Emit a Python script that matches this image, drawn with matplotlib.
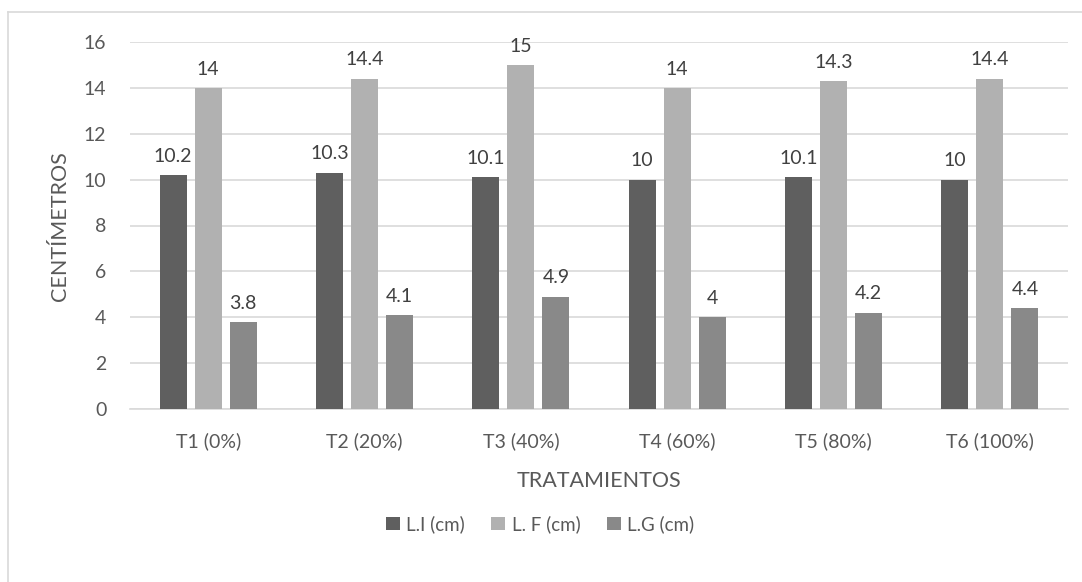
import numpy as np
import matplotlib.pyplot as plt
from matplotlib.lines import Line2D

plt.rcParams['font.family'] = ['Lato', 'DejaVu Sans']

categorias = ['T1 (0%)', 'T2 (20%)', 'T3 (40%)', 'T4 (60%)', 'T5 (80%)', 'T6 (100%)']
series = ['L.I (cm)', 'L. F (cm)', 'L.G (cm)']
li = [10.2, 10.3, 10.1, 10, 10.1, 10]
lf = [14, 14.4, 15, 14, 14.3, 14.4]
lg = [3.8, 4.1, 4.9, 4, 4.2, 4.4]
colores = ['#5f5f5f', '#b1b1b1', '#898989']
texto = '#595959'

fig = plt.figure(figsize=(10.82, 5.82), dpi=100)
ax = fig.add_axes([130 / 1082, 1 - 409 / 582, (1068 - 130) / 1082, (409 - 42) / 582])

x = np.arange(len(categorias))
ancho = 0.172
paso = 0.224
for i, (vals, c) in enumerate(zip([li, lf, lg], colores)):
    pos = x + (i - 1) * paso
    barras = ax.bar(pos, vals, width=ancho, color=c, label=series[i], zorder=3)
    for b, v in zip(barras, vals):
        ax.text(b.get_x() + b.get_width() / 2, v + 0.45, f'{v:g}',
                ha='center', va='bottom', fontsize=14, color='#404040')

ax.set_xlim(-0.5, len(categorias) - 0.5)
ax.set_ylim(0, 16)
ax.set_yticks(range(0, 17, 2))
ax.set_xticks(x)
ax.set_xticklabels(categorias)
ax.tick_params(length=0, labelsize=14, labelcolor=texto)
ax.tick_params(axis='x', pad=17)
ax.tick_params(axis='y', pad=17)
ax.grid(axis='y', color='#d9d9d9', linewidth=1.2, zorder=0)
for s in ['top', 'right', 'left']:
    ax.spines[s].set_visible(False)
ax.spines['bottom'].set_color('#d9d9d9')
ax.spines['bottom'].set_linewidth(1.2)

fig.text(60 / 1082, 1 - 226 / 582, 'CENTÍMETROS', rotation=90, ha='center', va='center',
         fontsize=15.5, color=texto)
fig.text(599 / 1082, 1 - 481 / 582, 'TRATAMIENTOS', ha='center', va='center',
         fontsize=15.5, color=texto)

leg = fig.legend(loc='center', bbox_to_anchor=(540 / 1082, 1 - 524 / 582), ncol=3,
                 frameon=False, fontsize=13.5, handlelength=0.75, handleheight=0.75,
                 handletextpad=0.35, columnspacing=1.4)
for t in leg.get_texts():
    t.set_color(texto)

# marco del gráfico
fig.add_artist(Line2D([8 / 1082, 1], [1 - 12 / 582, 1 - 12 / 582], color='#d9d9d9', lw=1.2))
fig.add_artist(Line2D([8 / 1082, 8 / 1082], [0, 1 - 12 / 582], color='#d9d9d9', lw=1.2))

fig.savefig('out.png', dpi=100)
